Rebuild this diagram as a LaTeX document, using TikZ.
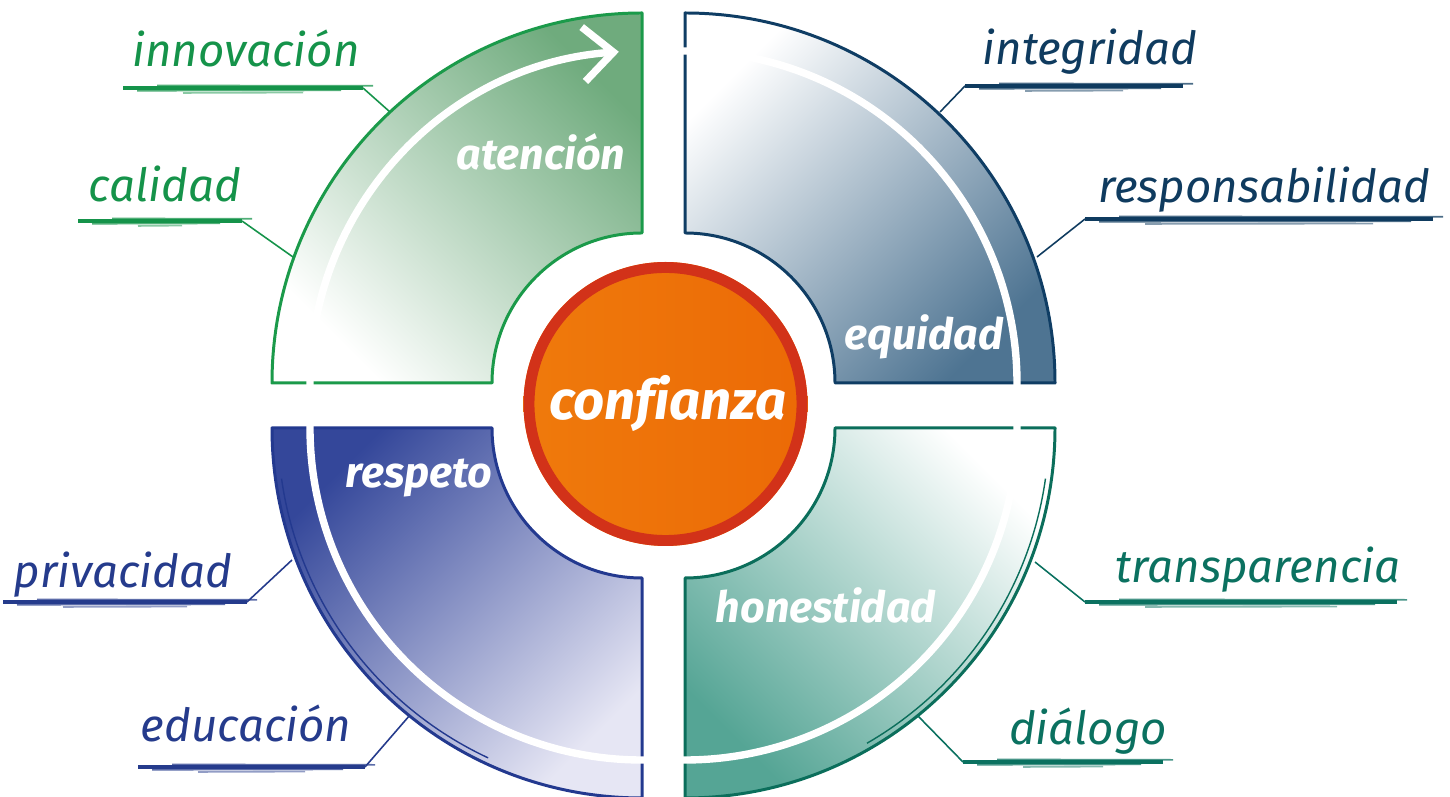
\documentclass[tikz,border=0pt]{standalone}
\usepackage{fontspec}
\setmainfont{Fira Sans}[Ligatures=NoCommon]
\usetikzlibrary{arrows.meta,calc}

\definecolor{gLine}{HTML}{1B9A4A}
\definecolor{gFill}{HTML}{6FAB7D}
\definecolor{nLine}{HTML}{0F3D64}
\definecolor{nFill}{HTML}{4E7492}
\definecolor{bLine}{HTML}{23398F}
\definecolor{bFill}{HTML}{34479A}
\definecolor{bLight}{HTML}{E6E6F4}
\definecolor{tLine}{HTML}{0B6E5B}
\definecolor{tFill}{HTML}{55A595}
\definecolor{gText}{HTML}{15934A}
\definecolor{nText}{HTML}{0F3B5F}
\definecolor{bText}{HTML}{253B8C}
\definecolor{tText}{HTML}{0B7160}
\definecolor{coreFill}{HTML}{EC6A06}
\definecolor{coreFillL}{HTML}{EF7A0C}
\definecolor{coreRing}{HTML}{D23219}

\tikzset{
  outerlabel/.style={anchor=base, font=\fontsize{26}{30}\selectfont\itshape, inner sep=0pt},
  innerlabel/.style={anchor=base, text=white, font=\fontsize{24.5}{28}\selectfont\bfseries\itshape, inner sep=0pt},
  corelabel/.style={anchor=base, text=white, font=\fontsize{31}{36}\selectfont\bfseries\itshape, inner sep=0pt},
  rim/.style={line width=1.7pt, line join=round},
  rimsketch/.style={line width=0.5pt, opacity=0.85},
  whitearc/.style={white, line width=4.2pt},
  underline/.style={line width=1.9pt},
  leader/.style={line width=0.9pt, line join=round},
  brushstroke/.style={line width=0.9pt, opacity=0.75},
}

% quarter ring: corner, start angle, end angle
\newcommand\quarterpath[3]{(#1) ++(#2:370) arc[start angle=#2, end angle=#3, radius=370] -- ($(#1)+(#3:150)$) arc[start angle=#3, end angle=#2, radius=150] -- cycle}

% extra strokes that give an underline its brushed look
\newcommand\brush[4]{%
  \draw[#4, brushstroke] (#1+14,#3-2.8) -- (#2-22,#3-2.4);
  \draw[#4, brushstroke] (#1+34,#3+2.6) -- (#2+10,#3+2.2);
  \draw[#4, brushstroke, opacity=0.5] (#1+60,#3-5) -- (#2-60,#3-4.6);
}

\begin{document}
\begin{tikzpicture}[x=0.02cm, y=0.02cm]
\useasboundingbox (0,0) rectangle (1450,797);

% quadrant corners
\coordinate (cTL) at (642,414);
\coordinate (cTR) at (685,414);
\coordinate (cBL) at (642,369);
\coordinate (cBR) at (685,369);
\coordinate (core) at (665.5,393);

% shaded quarters
\shade[top color=gFill, bottom color=white, shading angle=-45] \quarterpath{cTL}{180}{90};
\shade[top color=nFill, bottom color=white, shading angle=-135] \quarterpath{cTR}{90}{0};
\shade[top color=bFill, bottom color=bLight, shading angle=45] \quarterpath{cBL}{270}{180};
\shade[top color=tFill, bottom color=white, shading angle=135] \quarterpath{cBR}{360}{270};

% sketched rims
\draw[gLine, rim] \quarterpath{cTL}{180}{90};
\draw[nLine, rim] \quarterpath{cTR}{90}{0};
\draw[bLine, rim] \quarterpath{cBL}{270}{180};
\draw[tLine, rim] \quarterpath{cBR}{360}{270};
\begin{scope}[shift={(1.8,-1.4)}]
\draw[gLine, rimsketch] \quarterpath{cTL}{180}{90};
\draw[nLine, rimsketch] \quarterpath{cTR}{90}{0};
\draw[bLine, rimsketch] \quarterpath{cBL}{270}{180};
\draw[tLine, rimsketch] \quarterpath{cBR}{360}{270};
\end{scope}
\draw[bLine, line width=0.8pt] (cBL) ++(188:364) arc[start angle=188, end angle=245, radius=364];
\draw[tLine, line width=0.8pt] (cBR) ++(-8:364) arc[start angle=-8, end angle=-60, radius=364];

% white cycle line
\draw[whitearc] (cTR) ++(91:332) arc[start angle=91, end angle=-1, radius=332];
\draw[whitearc] (cBR) ++(1:332) arc[start angle=1, end angle=-91, radius=332];
\draw[whitearc] (cBL) ++(-89:332) arc[start angle=-89, end angle=-181, radius=332];
\draw[whitearc, -{Straight Barb[length=17pt, width=31pt]}] (cTL) ++(181:332) arc[start angle=181, end angle=94, radius=332];

% quadrant labels
\node[innerlabel] (atencion) at (541,627) {atención};
\node[innerlabel] (equidad) at (924,447) {equidad};
\node[innerlabel] (respeto) at (419,309) {respeto};
\node[innerlabel] (honestidad) at (826,174) {honestidad};

% centre
\shade[left color=coreFillL, right color=coreFill] (core) circle[radius=142];
\draw[coreRing, line width=6.2pt] (core) circle[radius=136.5];
\node[corelabel] (confianza) at (668,377) {confianza};

% outer labels
\node[outerlabel, text=gText] (innovacion) at (246,730) {innovación};
\node[outerlabel, text=gText] (calidad) at (165,595) {calidad};
\node[outerlabel, text=nText] (integridad) at (1090,732) {integridad};
\node[outerlabel, text=nText] (responsabilidad) at (1264,594) {responsabilidad};
\node[outerlabel, text=bText] (privacidad) at (123,209) {privacidad};
\node[outerlabel, text=bText] (educacion) at (246,55) {educación};
\node[outerlabel, text=tText] (transparencia) at (1258,214) {transparencia};
\node[outerlabel, text=tText] (dialogo) at (1088,52) {diálogo};

% leader lines: underline start, bend, tip on the rim
\coordinate (innA) at (123,709); \coordinate (innB) at (363,709); \coordinate (innT) at (390,685);
\coordinate (calA) at (78,576);  \coordinate (calB) at (242,576); \coordinate (calT) at (293,540);
\coordinate (intA) at (1183,711); \coordinate (intB) at (965,711); \coordinate (intT) at (940,685);
\coordinate (resA) at (1433,578); \coordinate (resB) at (1085,578); \coordinate (resT) at (1037,540);
\coordinate (priA) at (3,195);   \coordinate (priB) at (247,195); \coordinate (priT) at (292,237);
\coordinate (eduA) at (138,30);  \coordinate (eduB) at (365,30);  \coordinate (eduT) at (410,82);
\coordinate (traA) at (1397,195); \coordinate (traB) at (1085,195); \coordinate (traT) at (1035,235);
\coordinate (diaA) at (1163,35); \coordinate (diaB) at (963,35);  \coordinate (diaT) at (917,82);

\draw[gText, underline] (innA) -- (innB);  \draw[gText, leader] (innB) -- (innT);
\draw[gText, underline] (calA) -- (calB);  \draw[gText, leader] (calB) -- (calT);
\draw[nText, underline] (intA) -- (intB);  \draw[nText, leader] (intB) -- (intT);
\draw[nText, underline] (resA) -- (resB);  \draw[nText, leader] (resB) -- (resT);
\draw[bText, underline] (priA) -- (priB);  \draw[bText, leader] (priB) -- (priT);
\draw[bText, underline] (eduA) -- (eduB);  \draw[bText, leader] (eduB) -- (eduT);
\draw[tText, underline] (traA) -- (traB);  \draw[tText, leader] (traB) -- (traT);
\draw[tText, underline] (diaA) -- (diaB);  \draw[tText, leader] (diaB) -- (diaT);

\brush{123}{363}{709}{gText}
\brush{78}{242}{576}{gText}
\brush{965}{1183}{711}{nText}
\brush{1085}{1433}{578}{nText}
\brush{3}{247}{195}{bText}
\brush{138}{365}{30}{bText}
\brush{1085}{1397}{195}{tText}
\brush{963}{1163}{35}{tText}

\end{tikzpicture}
\end{document}
